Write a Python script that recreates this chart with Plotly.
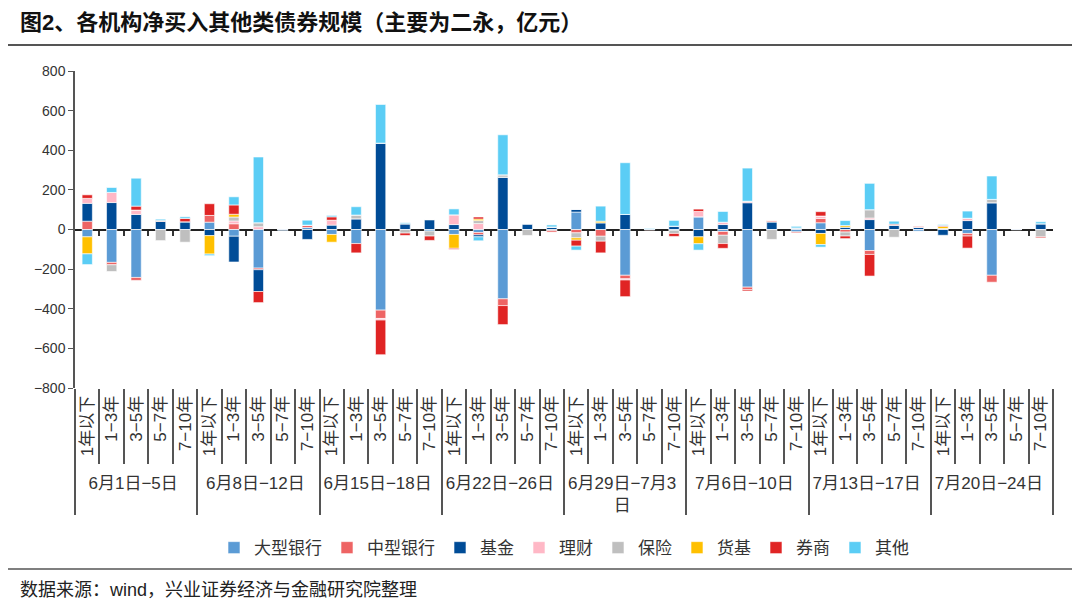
import plotly.graph_objects as go

# 周次与期限
weeks = ['6月1日−5日', '6月8日−12日', '6月15日−18日', '6月22日−26日',
         '6月29日−7月3<br>日', '7月6日−10日', '7月13日−17日', '7月20日−24日']
buckets = ['1年以下', '1−3年', '3−5年', '5−7年', '7−10年']

# 各机构净买入（亿元），按周次 x 期限排列
big_bank = [-37, -166, -242, 0, 0,   37, -34, -195, 0, 10,   -25, -71, -407, 0, -8,
            -25, -15, -350, 0, -5,   88, 0, -231, 0, -5,     64, -10, -291, 0, -12,
            34, 0, -106, 0, -8,      5, -20, -231, 0, 0]
mid_bank = [42, -12, -15, 0, 0,      34, 29, -8, 0, 12,      0, 0, -42, 0, 0,
            0, -12, -34, 0, -8,      -17, -34, -18, -3, 0,   0, -19, -12, 0, -5,
            22, -13, -20, 0, 0,      0, -13, -35, -2, 0]
fund = [90, 136, 76, 42, 39,         -31, -130, -110, -5, -50,  22, 54, 436, 29, 50,
        25, -10, 264, 29, 13,        13, 34, 76, 0, 17,      -37, 25, 135, 39, 8,
        -20, 12, 50, 22, 12,         -29, 45, 135, 0, 29]
wealth = [25, 51, 22, 0, 0,          0, 14, 14, 0, 0,        25, 0, -8, 0, 0,
          49, 30, 0, 0, 0,           0, 0, -6, 0, 0,         27, 12, 8, 0, 0,
          12, 0, 8, 0, 0,            0, 12, 0, 0, 0]
insurance = [0, -34, 0, -56, -64,    0, 20, 20, 0, 0,        0, 19, 0, -18, -25,
             0, 15, 12, -30, 0,      -25, -25, 0, 0, -15,    0, -42, 0, -50, 0,
             0, -20, 42, -39, 0,     0, 0, 17, 0, -37]
mmf = [-86, 0, 0, 0, 0,              -93, 14, 0, 0, 0,       -39, 0, 0, 0, 0,
       -70, 8, 0, 0, 0,              -12, 8, 0, 0, 0,        -35, 0, 0, 0, 0,
       -56, 8, 0, 0, 0,              10, 0, 0, 0, 0]
broker = [18, 0, 20, 3, 17,          59, 47, -56, 0, 0,      17, -47, -175, -12, -22,
          -5, 10, -96, 0, 0,         -30, -59, -84, 0, -15,  12, -24, -7, 5, 0,
          22, -13, -109, 5, 5,       5, -61, 0, 0, -5]
others = [-54, 25, 141, 7, 8,        -8, 41, 332, 0, 25,     7, 42, 195, 5, 0,
          30, -20, 202, 0, 10,       -20, 76, 261, 5, 29,    -32, 54, 167, 0, 8,
          -13, 25, 133, 15, 0,       5, 36, 118, 0, 10]

series = [
    ('大型银行', big_bank, '#5B9BD5'),
    ('中型银行', mid_bank, '#EE6464'),
    ('基金', fund, '#004C97'),
    ('理财', wealth, '#FFB8C6'),
    ('保险', insurance, '#BFBFBF'),
    ('货基', mmf, '#FFC000'),
    ('券商', broker, '#E02424'),
    ('其他', others, '#5BCDF5'),
]

x_week = [w for w in weeks for _ in buckets]
x_bucket = [b for _ in weeks for b in buckets]

fig = go.Figure()
for name, vals, color in series:
    fig.add_trace(go.Bar(
        x=[x_week, x_bucket], y=vals, name=name,
        marker=dict(color=color, line=dict(color='white', width=0.6)),
    ))

# 零轴上的小刻度
fig.add_trace(go.Bar(x=[x_week, x_bucket], y=[0] * len(x_week), xaxis='x2',
                     showlegend=False, hoverinfo='skip', marker_color='rgba(0,0,0,0)'))

font_cn = 'Liberation Sans, Noto Sans CJK SC, sans-serif'

# 页面默认有 8px 边距，这里整体扣掉
fig.update_layout(
    barmode='relative',
    bargap=0.58,
    width=1072, height=597,
    margin=dict(l=67, r=27, t=63, b=217),
    paper_bgcolor='white', plot_bgcolor='white',
    font=dict(family=font_cn, size=17, color='#333333'),
    legend=dict(orientation='h', x=0.5, xanchor='center', y=-0.505, yanchor='middle',
                font=dict(size=17, color='#333333'), traceorder='normal',
                itemwidth=30, tracegroupgap=0),
    xaxis=dict(type='multicategory', showline=True, linecolor='white',
               ticks='outside', ticklen=75, tickcolor='#555555', tickwidth=1.5,
               tickangle=-90, dividercolor='#555555', dividerwidth=1.5,
               tickfont=dict(size=17, color='#333333'), showgrid=False),
    xaxis2=dict(type='multicategory', overlaying='x', anchor='free', position=0.5,
                matches='x', showticklabels=False, ticks='outside', ticklen=5,
                tickcolor='#333333', tickwidth=1.5, showline=False, showgrid=False),
    yaxis=dict(range=[-800, 800], dtick=200, showgrid=False, zeroline=True,
               zerolinecolor='#222222', zerolinewidth=1.5, showline=True,
               linecolor='#555555', linewidth=1.5, ticks='outside', ticklen=5,
               tickcolor='#555555', tickfont=dict(size=14, color='#333333')),
    shapes=[
        dict(type='line', xref='paper', yref='paper', x0=-0.0736, x1=1.0276,
             y0=(388 - 45) / 317, y1=(388 - 45) / 317, line=dict(color='#555555', width=2)),
        dict(type='line', xref='paper', yref='paper', x0=-0.0736, x1=1.0276,
             y0=(388 - 569) / 317, y1=(388 - 569) / 317, line=dict(color='#555555', width=1.5)),
    ],
    annotations=[
        dict(text='<b>图2、各机构净买入其他类债券规模（主要为二永，亿元）</b>',
             xref='paper', yref='paper', x=(18 - 75) / 978, y=(388 - 22) / 317,
             xanchor='left', yanchor='middle', showarrow=False,
             font=dict(size=22, color='#111111')),
        dict(text='数据来源：wind，兴业证券经济与金融研究院整理', xref='paper', yref='paper',
             x=(18 - 75) / 978, y=(388 - 590) / 317, xanchor='left', yanchor='middle',
             showarrow=False, font=dict(size=18, color='#222222')),
    ],
)

fig.write_html('out.html')
